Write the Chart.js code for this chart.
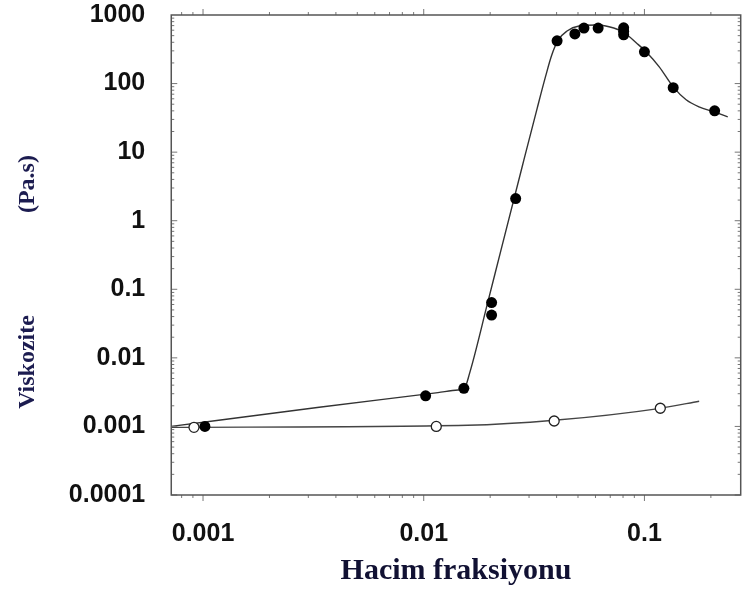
<!DOCTYPE html>
<html>
<head>
<meta charset="utf-8">
<script src="https://cdn.jsdelivr.net/npm/chart.js@4.4.1/dist/chart.umd.min.js"></script>
<style>
  body { margin: 0; background: #fff; overflow: hidden; }
  canvas { display: block; }
</style>
</head>
<body>
<canvas id="chart" width="747" height="599"></canvas>
<script>
// tick values / labels
var xTicks = [0.001, 0.01, 0.1];
var xTickLabels = ['0.001', '0.01', '0.1'];
var yTicks = [0.0001, 0.001, 0.01, 0.1, 1, 10, 100, 1000];
var yTickLabels = ['0.0001', '0.001', '0.01', '0.1', '1', '10', '100', '1000'];

// filled points (measured)
var filledX = [0.00102, 0.0102, 0.0152, 0.0203, 0.0203, 0.0261, 0.0402, 0.0484, 0.0532, 0.0617, 0.0805, 0.0805, 0.0805, 0.100, 0.135, 0.208];
var filledY = [0.001, 0.0028, 0.0036, 0.064, 0.042, 2.1, 420, 530, 645, 645, 650, 580, 515, 290, 87, 40];

// fitted curve through the filled points
var filledCurveX = [0.000718, 0.00336, 0.0116, 0.0143, 0.0152, 0.01618, 0.0195, 0.0223, 0.028, 0.0327, 0.0356, 0.0379, 0.0407, 0.0446, 0.0505, 0.0608, 0.0726, 0.0805, 0.092, 0.102, 0.1167, 0.135, 0.1545, 0.1767, 0.2065, 0.2385];
var filledCurveY = [0.001, 0.0019, 0.00311, 0.00339, 0.00348, 0.00615, 0.0643, 0.355, 6.34, 44.3, 125, 253, 433, 585, 692, 715, 647, 560, 391, 289, 175, 89.5, 58, 45.8, 38.7, 32.7];

// open points (measured)
var openX = [0.00091, 0.0114, 0.039, 0.118];
var openY = [0.00097, 0.001, 0.0012, 0.00184];

// curve through the open points
var openCurveX = [0.000718, 0.0158, 0.039, 0.118, 0.177];
var openCurveY = [0.00097, 0.00104, 0.00123, 0.00184, 0.00233];

function toXY(xs, ys) {
    var out = [];
    for (var i = 0; i < xs.length; i++) {
        out.push({x: xs[i], y: ys[i]});
    }
    return out;
}

// box around the plot plus small log ticks
var frameTicks = {
    id: 'frameTicks',
    afterDatasetsDraw: function(chart) {
        var ctx = chart.ctx;
        var a = chart.chartArea;
        var xs = chart.scales.x, ys = chart.scales.y;
        ctx.save();
        ctx.strokeStyle = '#777';
        ctx.lineWidth = 1;
        ctx.beginPath();
        for (var e = -4; e < 3; e++) {
            for (var m = 1; m < 10; m++) {
                var py = ys.getPixelForValue(m * Math.pow(10, e));
                var len = m === 1 ? 6 : 3;
                ctx.moveTo(a.left, py); ctx.lineTo(a.left + len, py);
                ctx.moveTo(a.right, py); ctx.lineTo(a.right - len, py);
            }
        }
        for (var e2 = -4; e2 < 0; e2++) {
            for (var m2 = 1; m2 < 10; m2++) {
                var v = m2 * Math.pow(10, e2);
                if (v < xs.min || v > xs.max) continue;
                var px = xs.getPixelForValue(v);
                var l2 = m2 === 1 ? 6 : 3;
                ctx.moveTo(px, a.bottom); ctx.lineTo(px, a.bottom + l2);
                ctx.moveTo(px, a.top); ctx.lineTo(px, a.top - l2);
            }
        }
        ctx.stroke();
        ctx.strokeStyle = '#555';
        ctx.lineWidth = 1.5;
        ctx.strokeRect(a.left, a.top, a.right - a.left, a.bottom - a.top);
        ctx.restore();
    }
};

var tickFont = {family: "'Liberation Sans', Arial, sans-serif", size: 25, weight: 'bold'};

new Chart(document.getElementById('chart'), {
    type: 'scatter',
    data: {
        datasets: [
            {
                label: 'filled',
                data: toXY(filledX, filledY),
                showLine: false,
                pointRadius: 5.5,
                pointBackgroundColor: '#000',
                pointBorderColor: '#000',
                pointBorderWidth: 0
            },
            {
                label: 'open',
                data: toXY(openX, openY),
                showLine: false,
                pointRadius: 5,
                pointBackgroundColor: '#fff',
                pointBorderColor: '#222',
                pointBorderWidth: 1.3
            },
            {
                label: 'filled fit',
                data: toXY(filledCurveX, filledCurveY),
                showLine: true,
                pointRadius: 0,
                borderColor: '#333',
                borderWidth: 1.4,
                cubicInterpolationMode: 'monotone'
            },
            {
                label: 'open fit',
                data: toXY(openCurveX, openCurveY),
                showLine: true,
                pointRadius: 0,
                borderColor: '#444',
                borderWidth: 1.3,
                cubicInterpolationMode: 'monotone'
            }
        ]
    },
    options: {
        responsive: false,
        animation: false,
        layout: {padding: {left: 0, right: 2, top: 14, bottom: 0}},
        plugins: {
            legend: {display: false},
            tooltip: {enabled: false}
        },
        scales: {
            x: {
                type: 'logarithmic',
                min: 0.000718,
                max: 0.273,
                afterBuildTicks: function(scale) {
                    scale.ticks = xTicks.map(function(v) { return {value: v}; });
                },
                afterFit: function(scale) {
                    // labels sit well inside the frame, no side padding needed
                    scale.paddingLeft = 0;
                    scale.paddingRight = 0;
                },
                grid: {display: false, tickLength: 24},
                border: {display: false},
                ticks: {
                    autoSkip: false,
                    maxRotation: 0,
                    padding: 0,
                    color: '#111',
                    font: tickFont,
                    callback: function(v, i) { return xTickLabels[i]; }
                },
                title: {
                    display: true,
                    text: 'Hacim fraksiyonu',
                    color: '#111133',
                    font: {family: "'Liberation Serif', 'Times New Roman', serif", size: 30, weight: 'bold'},
                    padding: {top: 4, bottom: 10}
                }
            },
            y: {
                type: 'logarithmic',
                min: 0.0001,
                max: 1000,
                afterBuildTicks: function(scale) {
                    scale.ticks = yTicks.map(function(v) { return {value: v}; });
                },
                grid: {display: false, tickLength: 26},
                border: {display: false},
                ticks: {
                    autoSkip: false,
                    padding: 0,
                    color: '#111',
                    font: tickFont,
                    callback: function(v, i) { return yTickLabels[i]; }
                },
                title: {
                    display: true,
                    text: 'Viskozite                 (Pa.s)         ',
                    color: '#1c1c50',
                    font: {family: "'Liberation Serif', 'Times New Roman', serif", size: 24, weight: 'bold'},
                    padding: {top: 13, bottom: 27}
                }
            }
        }
    },
    plugins: [frameTicks]
});
</script>
</body>
</html>
